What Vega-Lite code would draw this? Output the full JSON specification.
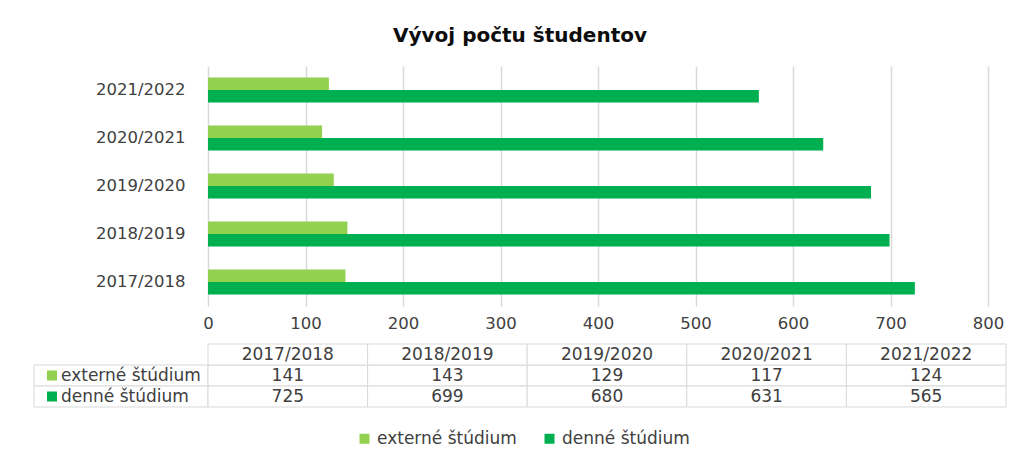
{
  "$schema": "https://vega.github.io/schema/vega-lite/v6.json",
  "padding": {"left": 33, "top": 26, "right": 0, "bottom": 0},
  "bounds": "flush",
  "title": {"text": "Vývoj počtu študentov", "fontSize": 20, "fontWeight": "bold", "color": "#0d0d0d", "anchor": "middle", "offset": 20},
  "data": {"values": [
    {"year": "2017/2018", "series": "externé štúdium", "value": 141},
    {"year": "2017/2018", "series": "denné štúdium", "value": 725},
    {"year": "2018/2019", "series": "externé štúdium", "value": 143},
    {"year": "2018/2019", "series": "denné štúdium", "value": 699},
    {"year": "2019/2020", "series": "externé štúdium", "value": 129},
    {"year": "2019/2020", "series": "denné štúdium", "value": 680},
    {"year": "2020/2021", "series": "externé štúdium", "value": 117},
    {"year": "2020/2021", "series": "denné štúdium", "value": 631},
    {"year": "2021/2022", "series": "externé štúdium", "value": 124},
    {"year": "2021/2022", "series": "denné štúdium", "value": 565}
  ]},
  "columns": 2,
  "spacing": {"row": 38, "column": 0},
  "concat": [
    {
      "width": 174, "height": 240,
      "data": {"values": []},
      "mark": {"type": "point", "opacity": 0},
      "encoding": {}
    },
    {
      "width": 780, "height": 240,
      "mark": {"type": "bar"},
      "encoding": {
        "y": {"field": "year", "type": "nominal",
              "sort": ["2021/2022", "2020/2021", "2019/2020", "2018/2019", "2017/2018"],
              "scale": {"paddingInner": 0.48, "paddingOuter": 0.24},
              "axis": {"title": null, "domain": false, "ticks": false, "labelPadding": 23, "labelFontSize": 16.5, "labelColor": "#404040"}},
        "yOffset": {"field": "series", "type": "nominal", "sort": ["externé štúdium", "denné štúdium"],
                    "scale": {"paddingInner": 0, "paddingOuter": 0}},
        "x": {"field": "value", "type": "quantitative", "scale": {"domain": [0, 800]},
              "axis": {"title": null, "values": [0, 100, 200, 300, 400, 500, 600, 700, 800], "domain": false, "ticks": false,
                       "grid": true, "gridColor": "#d9d9d9", "gridWidth": 1.5, "labelPadding": 9, "labelFontSize": 16.5,
                       "labelColor": "#404040", "labelFlush": false}},
        "color": {"field": "series", "type": "nominal",
                  "scale": {"domain": ["externé štúdium", "denné štúdium"], "range": ["#92d050", "#00b050"]},
                  "legend": {"orient": "none", "legendX": 322, "legendY": 364, "direction": "horizontal", "title": null, "symbolType": "square",
                             "symbolSize": 100, "labelFontSize": 17, "labelColor": "#404040", "columnPadding": 24,
                             "symbolStrokeWidth": 0, "labelOffset": 4}}
      }
    },
    {
      "width": 174, "height": 63,
      "transform": [{"filter": "datum.year == '2017/2018'"}],
      "encoding": {
        "y": {"field": "series", "type": "nominal",
              "scale": {"domain": ["hdr", "externé štúdium", "denné štúdium"], "paddingInner": 0, "paddingOuter": 0},
              "axis": null}
      },
      "layer": [
        {"mark": {"type": "rect", "fill": "white", "stroke": "#d9d9d9", "strokeWidth": 1}},
        {"mark": {"type": "point", "shape": "square", "filled": true, "size": 100, "opacity": 1, "x": 18},
         "encoding": {"color": {"field": "series", "type": "nominal", "legend": null}}},
        {"mark": {"type": "text", "align": "left", "x": 27, "fontSize": 17, "color": "#404040"},
         "encoding": {"text": {"field": "series"}}}
      ]
    },
    {
      "width": 798, "height": 63,
      "encoding": {
        "x": {"field": "year", "type": "nominal",
              "sort": ["2017/2018", "2018/2019", "2019/2020", "2020/2021", "2021/2022"],
              "scale": {"paddingInner": 0, "paddingOuter": 0}, "axis": null},
        "y": {"field": "series", "type": "nominal",
              "scale": {"domain": ["hdr", "externé štúdium", "denné štúdium"], "paddingInner": 0, "paddingOuter": 0},
              "axis": null}
      },
      "layer": [
        {"mark": {"type": "rect", "fill": "white", "stroke": "#d9d9d9", "strokeWidth": 1}},
        {"mark": {"type": "text", "fontSize": 17, "color": "#404040"}, "encoding": {"text": {"field": "value"}}},
        {"transform": [{"filter": "datum.series == 'denné štúdium'"}],
         "mark": {"type": "rect", "fill": "white", "stroke": "#d9d9d9", "strokeWidth": 1},
         "encoding": {"y": {"datum": "hdr"}}},
        {"transform": [{"filter": "datum.series == 'denné štúdium'"}],
         "mark": {"type": "text", "fontSize": 17, "color": "#404040"},
         "encoding": {"y": {"datum": "hdr"}, "text": {"field": "year"}}}
      ]
    }
  ],
  "config": {
    "font": "DejaVu Sans",
    "view": {"stroke": null},
    "axis": {"labelFont": "DejaVu Sans"},
    "legend": {"labelFont": "DejaVu Sans"},
    "title": {"font": "DejaVu Sans"}
  }
}
